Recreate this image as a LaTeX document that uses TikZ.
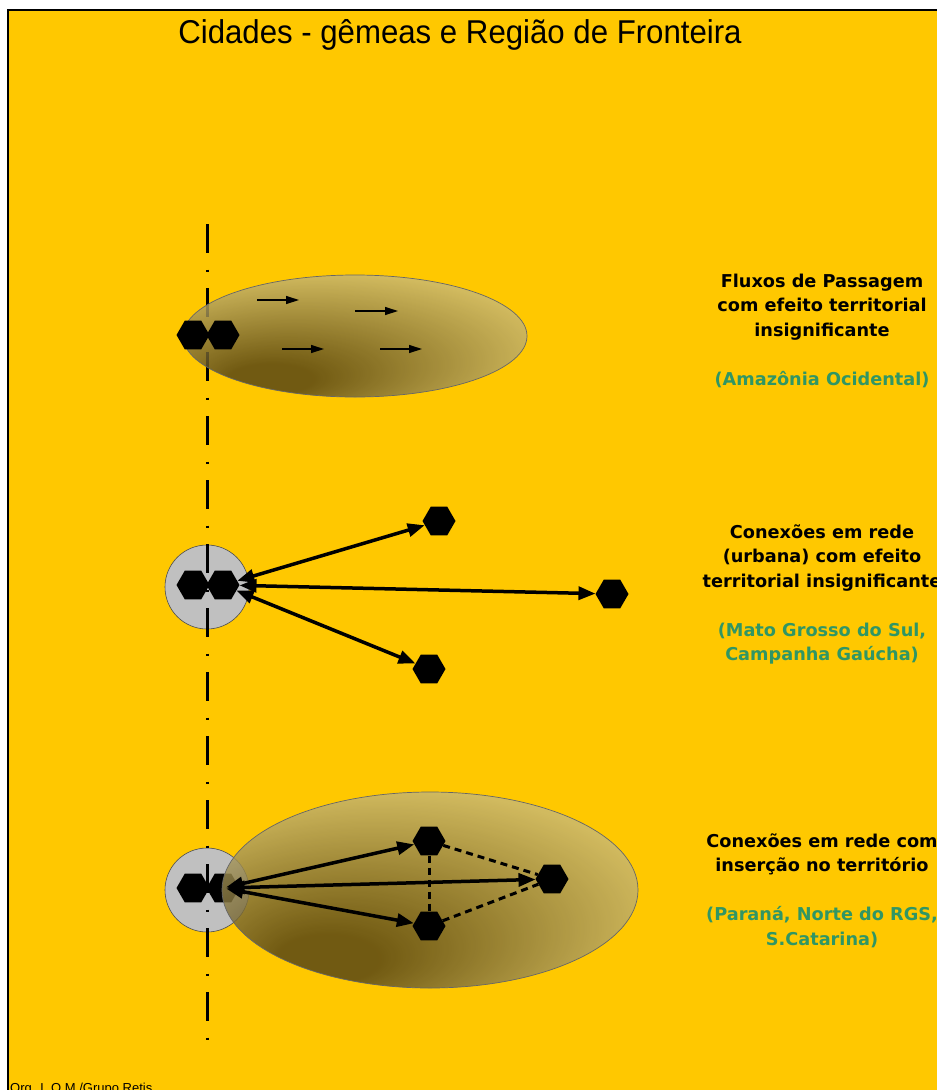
\documentclass[tikz,border=0pt]{standalone}
\usepackage{fontspec}
\setmainfont{Liberation Sans}
\newfontfamily\labelfont{DejaVu Sans}
\usetikzlibrary{arrows.meta,shapes.geometric}

\definecolor{bgyellow}{RGB}{255,200,0}
\definecolor{regiongreen}{RGB}{48,150,100}
\definecolor{plaindark}{RGB}{82,66,22}
\definecolor{plainlight}{RGB}{214,198,128}
\definecolor{cityring}{RGB}{192,192,192}

% brownish "territory" fill, darkest towards the lower left
\pgfdeclareradialshading{plateau}{\pgfpoint{-14bp}{-20bp}}{%
  color(0bp)=(plaindark); color(6bp)=(plaindark);
  color(36bp)=(plainlight); color(50bp)=(plainlight)}

\begin{document}
\begin{tikzpicture}[x=1pt,y=-1pt,
  city/.style={regular polygon, regular polygon sides=6, minimum size=33pt,
    inner sep=0pt, fill=black},
  ring/.style={circle, minimum size=84pt, inner sep=0pt, fill=cityring,
    draw=black!70, line width=0.6pt},
  territory/.style={shading=plateau, fill opacity=0.82, draw=black!60,
    draw opacity=1, line width=0.7pt},
  frontier/.style={line width=3pt, dash pattern=on 29pt off 16.5pt on 2.5pt off 16pt},
  flow/.style={line width=1.3pt, -{Triangle[length=13pt,width=8pt]}},
  link/.style={line width=3.5pt,
    {Triangle[length=17pt,width=13pt]}-{Triangle[length=17pt,width=13pt]}},
  tie/.style={line width=3pt, dash pattern=on 7pt off 5pt},
  caption/.style={font=\labelfont\bfseries\fontsize{17.7}{24.5}\selectfont,
    align=center, anchor=north, inner sep=0pt},
  region/.style={text=regiongreen}]

% page
\useasboundingbox (0,0) rectangle (937,1090);
\fill[white] (0,0) rectangle (937,1090);
\fill[bgyellow] (8,10) rectangle (937,1090);
\draw[line width=2pt] (8,1090) -- (8,10) -- (937,10);

% title and credit
\node[font=\fontsize{33}{38}\selectfont, inner sep=0pt] (title) at (460,35)
  {\scalebox{0.945}[1]{Cidades - gêmeas e Região de Fronteira}};
\node[font=\fontsize{13}{15}\selectfont, anchor=base west, inner sep=0pt]
  (credit) at (10,1092) {Org. L.O.M./Grupo Retis};

% city rings (under the border line)
\node[ring] (ring2) at (207,587) {};
\node[ring] (ring3) at (207,890) {};

% border line
\draw[frontier] (207,224) -- (207,1040);

% case 1: passage flows
\shadedraw[territory] (355,336) ellipse [x radius=172, y radius=61];
\node[city] (t1) at (193,335) {};
\node[city] (t2) at (223,335) {};
\coordinate (f1s) at (257,300); \coordinate (f1e) at (299,300);
\coordinate (f2s) at (355,311); \coordinate (f2e) at (398,311);
\coordinate (f3s) at (282,349); \coordinate (f3e) at (324,349);
\coordinate (f4s) at (380,349); \coordinate (f4e) at (422,349);
\draw[flow] (f1s) -- (f1e);
\draw[flow] (f2s) -- (f2e);
\draw[flow] (f3s) -- (f3e);
\draw[flow] (f4s) -- (f4e);

% case 2: urban network
\node[city] (m1) at (193,585) {};
\node[city] (m2) at (223,585) {};
\node[city] (u1) at (439,521) {};
\node[city] (u2) at (612,594) {};
\node[city] (u3) at (429,669) {};
\draw[link] (m2) -- (u1);
\draw[link] (m2) -- (u2);
\draw[link] (m2) -- (u3);

% case 3: network inserted in the territory
\node[city] (b1) at (193,888) {};
\node[city] (b2) at (223,888) {};
\shadedraw[territory] (430,890) ellipse [x radius=208, y radius=98];
\node[city] (na) at (429,841) {};
\node[city] (nb) at (429,926) {};
\node[city] (nc) at (552,879) {};
\draw[tie] (na) -- (nc);
\draw[tie] (nb) -- (nc);
\draw[tie] (na) -- (nb);
\draw[link, shorten <=-12pt] (b2) -- (na);
\draw[link, shorten <=-12pt] (b2) -- (nc);
\draw[link, shorten <=-12pt] (b2) -- (nb);

% captions
\node[caption] (c1) at (822,273.5) {Fluxos de Passagem\\com efeito territorial\\insignificante\\[24.5pt]
  \textcolor{regiongreen}{(Amazônia Ocidental)}};
\node[caption] (c2) at (822,524.5) {Conexões em rede\\(urbana) com efeito\\territorial insignificante\\[24.5pt]
  \textcolor{regiongreen}{(Mato Grosso do Sul,}\\\textcolor{regiongreen}{Campanha Gaúcha)}};
\node[caption] (c3) at (822,833.5) {Conexões em rede com\\inserção no território\\[24.5pt]
  \textcolor{regiongreen}{(Paraná, Norte do RGS,}\\\textcolor{regiongreen}{S.Catarina)}};
\end{tikzpicture}
\end{document}
